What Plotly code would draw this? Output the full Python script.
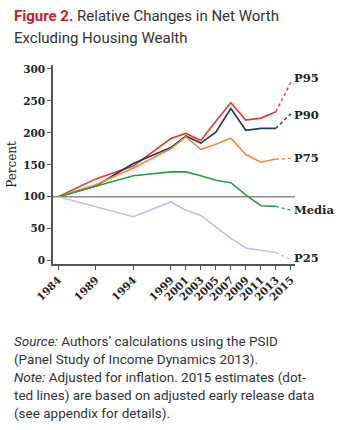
import plotly.graph_objects as go

# Survey years and percentile series (1984 = 100)
years = [1984, 1989, 1994, 1999, 2001, 2003, 2005, 2007, 2009, 2011, 2013, 2015]
p95 = [100, 128, 148, 191, 199, 188, 218, 247, 220, 223, 233, 279]
p90 = [100, 117, 152, 177, 195, 184, 201, 238, 204, 207, 207, 230]
p75 = [100, 119, 145, 175, 194, 174, 182, 192, 166, 154, 159, 160]
median = [100, 117, 133, 139, 139, 133, 126, 122, 103, 86, 85, 79]
p25 = [100, 84, 69, 92, 79, 71, 53, 35, 20, 17, 13, 2]

series = [
    ("P95", p95, "#e23b2e"),
    ("P90", p90, "#1d3a5a"),
    ("P75", p75, "#f5883a"),
    ("Media", median, "#2f9a48"),
    ("P25", p25, "#c4c0dc"),
]

ytick_vals = [0, 50, 100, 150, 200, 250, 300]

W, H = 339, 430
L, R, T, B = 53, 295, 65, 264


def px_x(px):
    return (px - L) / (R - L)


def px_y(py):
    return (B - py) / (B - T)


fig = go.Figure()

for name, vals, color in series:
    # solid through 2013, dotted estimate to 2015
    fig.add_trace(go.Scatter(x=years[:-1], y=vals[:-1], mode="lines",
                             line=dict(color=color, width=1.6),
                             showlegend=False, hoverinfo="skip"))
    fig.add_trace(go.Scatter(x=years[-2:], y=vals[-2:], mode="lines",
                             line=dict(color=color, width=1.4, dash="dot"),
                             showlegend=False, hoverinfo="skip"))

# baseline at 100
fig.add_shape(type="line", xref="paper", yref="y", x0=0, x1=1, y0=100, y1=100,
              line=dict(color="#8c8c8c", width=1.5), layer="below")

serif = "DejaVu Serif"
label_y = {"P95": 286, "P90": 228, "P75": 160, "Media": 80, "P25": 4}
for name, vals, color in series:
    fig.add_annotation(x=years[-1], y=label_y[name], xref="x", yref="y",
                       text=f"<b>{name}</b>", showarrow=False, xanchor="left",
                       xshift=1, font=dict(family=serif, size=11.5, color="#222"))

sans = "Roboto"
fig.add_annotation(xref="paper", yref="paper", x=px_x(12), y=px_y(16),
                   xanchor="left", yanchor="middle", showarrow=False, align="left",
                   text="<b><span style='color:#c9202f'>Figure 2.</span></b> Relative Changes in Net Worth",
                   font=dict(family=sans, size=15, color="#333"))
fig.add_annotation(xref="paper", yref="paper", x=px_x(12), y=px_y(38),
                   xanchor="left", yanchor="middle", showarrow=False, align="left",
                   text="Excluding Housing Wealth",
                   font=dict(family=sans, size=15, color="#333"))

notes = [
    "<i>Source:</i> Authors’ calculations using the PSID",
    "(Panel Study of Income Dynamics 2013).",
    "<i>Note:</i> Adjusted for inflation. 2015 estimates (dot-",
    "ted lines) are based on adjusted early release data",
    "(see appendix for details).",
]
for i, line in enumerate(notes):
    fig.add_annotation(xref="paper", yref="paper", x=px_x(12), y=px_y(341 + 18 * i),
                       xanchor="left", yanchor="middle", showarrow=False, align="left",
                       text=line, font=dict(family=sans, size=13.5, color="#333"))

fig.update_layout(
    width=W, height=H,
    margin=dict(l=L, r=W - R, t=T, b=H - B),
    paper_bgcolor="white", plot_bgcolor="white",
    showlegend=False,
    xaxis=dict(range=[1983.3, 2015.55], tickvals=years,
               ticktext=[f"<b>{y}</b>" for y in years],
               tickangle=-45, ticks="outside", ticklen=4, tickcolor="#555",
               showline=True, linecolor="#555", linewidth=1.5, showgrid=False,
               zeroline=False, tickfont=dict(family=serif, size=10.5, color="#222")),
    yaxis=dict(range=[-5, 306], tickvals=ytick_vals,
               ticktext=[f"<b>{v}</b>" for v in ytick_vals],
               ticks="outside", ticklen=4,
               tickcolor="#555", showline=True, linecolor="#555", linewidth=1.5,
               showgrid=False, zeroline=False,
               tickfont=dict(family=serif, size=10.5, color="#222"),
               title=dict(text="Percent", font=dict(family=serif, size=12, color="#222"),
                          standoff=4)),
)

fig.write_html("out.html")
